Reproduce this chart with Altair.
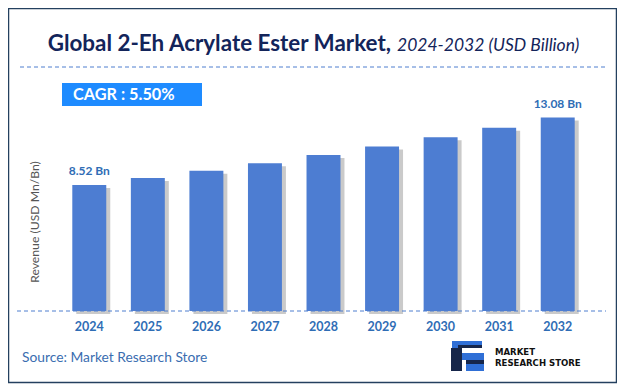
import altair as alt
import pandas as pd

years = ["2024", "2025", "2026", "2027", "2028", "2029", "2030", "2031", "2032"]
values = [8.52, 8.99, 9.48, 10.00, 10.55, 11.13, 11.75, 12.39, 13.08]
labels = ["8.52 Bn", "", "", "", "", "", "", "", "13.08 Bn"]

title_main = "Global 2-Eh Acrylate Ester Market,"
title_sub = "2024-2032 (USD Billion)"
cagr_text = "CAGR :  5.50%"
y_title = "Revenue (USD Mn/Bn)"
source_text = "Source: Market Research Store"
logo_lines = ["MARKET", "RESEARCH STORE"]

df = pd.DataFrame({"year": years, "value": values, "label": labels})
one = pd.DataFrame({"a": [0]})

OX, OY = 60, 104  # plot origin in page coords
FONT = "Lato"


def px(x):
    return alt.value(x - OX)


def py(y):
    return alt.value(y - OY)


xenc = alt.X(
    "year:O",
    sort=years,
    scale=alt.Scale(paddingInner=0.42, paddingOuter=0.21),
    axis=alt.Axis(
        title=None, domain=False, ticks=False, labelAngle=0,
        labelFont=FONT, labelFontWeight="bold", labelFontSize=12.5,
        labelColor="#2f6db5", labelPadding=9, zindex=2,
    ),
)
yenc = alt.Y("value:Q", scale=alt.Scale(domain=[0, 14], nice=False), axis=None)

border = alt.Chart(one).mark_rect(fill="white", stroke="#24405f", strokeWidth=1.5).encode(
    x=px(8.5), x2=px(616.5), y=py(8.5), y2=py(382.5)
)

title_dash = alt.Chart(one).mark_rule(color="#4f7fcf", strokeDash=[4, 3], strokeWidth=1).encode(
    x=px(20), x2=px(607), y=py(67)
)
base_dash = alt.Chart(one).mark_rule(color="#4f7fcf", strokeDash=[4, 3], strokeWidth=1).encode(
    x=px(17), x2=px(606), y=py(311)
)

t_main = alt.Chart(one).mark_text(
    text=title_main, font=FONT, fontWeight="bold", fontSize=22.4, color="#13245a",
    align="right", baseline="alphabetic",
).encode(x=px(391), y=py(51))
t_sub = alt.Chart(one).mark_text(
    text=title_sub, font=FONT, fontStyle="italic", fontSize=17.5, color="#13245a",
    align="left", baseline="alphabetic",
).encode(x=px(397), y=py(51))

cagr_box = alt.Chart(one).mark_rect(fill="#1e8bff").encode(
    x=px(62), x2=px(202), y=py(83), y2=py(106)
)
cagr_t = alt.Chart(one).mark_text(
    text=cagr_text, font=FONT, fontWeight="bold", fontSize=16.3, color="white",
    align="left", baseline="middle",
).encode(x=px(73), y=py(95))

ytitle = alt.Chart(one).mark_text(
    text=y_title, font=FONT, fontSize=12.2, color="#555555", angle=270,
    align="center", baseline="middle",
).encode(x=px(35), y=py(222))

shadow = alt.Chart(df).mark_bar(color="#8a8a8a", opacity=0.45, xOffset=4, yOffset=3).encode(
    x=xenc, y=yenc
)
bars = alt.Chart(df).mark_bar(color="#4d7dd2").encode(x=xenc, y=yenc)
vlabels = alt.Chart(df).mark_text(
    font=FONT, fontWeight="bold", fontSize=12, color="#2f6db5", dy=-14, baseline="middle",
).encode(x=xenc, y=yenc, text="label:N")

source = alt.Chart(one).mark_text(
    text=source_text, font=FONT, fontSize=13.8, color="#3a6db0",
    align="left", baseline="middle",
).encode(x=px(22), y=py(358))

# logo icon (approximation built from a few rectangles)
logo_rects = [
    (452, 482, 341, 348, "#2f6fd6"),
    (458, 482, 345, 348, "#16264a"),
    (451, 462, 348, 371, "#16264a"),
    (462, 484, 353, 360, "#2f6fd6"),
    (466, 484, 360, 364, "#16264a"),
    (466, 484, 364, 371, "#2f6fd6"),
]
logo_layers = [
    alt.Chart(one).mark_rect(color=c).encode(x=px(a), x2=px(b), y=py(t), y2=py(u))
    for (a, b, t, u, c) in logo_rects
]
logo_t1 = alt.Chart(one).mark_text(
    text=logo_lines[0], font="DejaVu Sans Condensed", fontWeight="bold", fontSize=9.5,
    color="#111111", align="left", baseline="middle",
).encode(x=px(495), y=py(352))
logo_t2 = alt.Chart(one).mark_text(
    text=logo_lines[1], font="DejaVu Sans Condensed", fontWeight="bold", fontSize=9.5,
    color="#111111", align="left", baseline="middle",
).encode(x=px(495), y=py(363))

chart = alt.layer(
    border, title_dash, t_main, t_sub, cagr_box, cagr_t, ytitle,
    shadow, bars, base_dash, vlabels, source, *logo_layers, logo_t1, logo_t2,
).properties(
    width=527, height=207,
    padding={"left": 52, "top": 96, "right": 30, "bottom": 73},
    autosize=alt.AutoSizeParams(type="none"),
).configure_view(stroke=None)

chart.save("out.html", embed_options={"renderer": "svg", "actions": False})
